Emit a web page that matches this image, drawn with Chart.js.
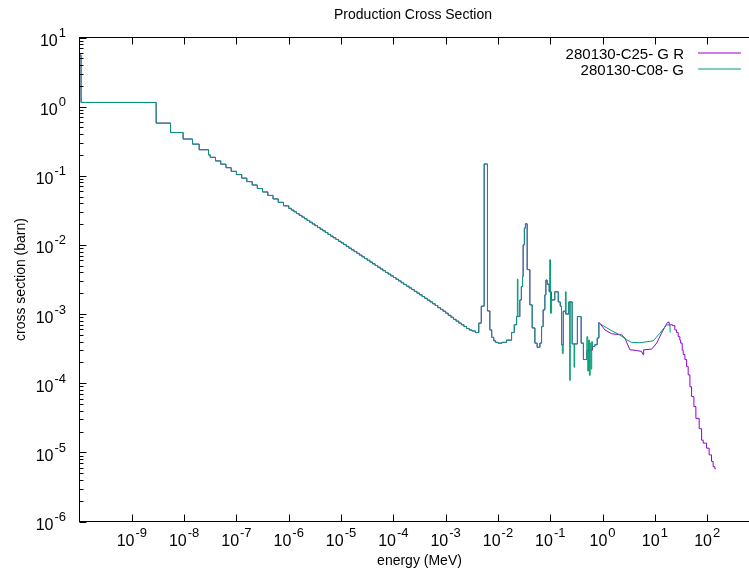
<!DOCTYPE html>
<html><head><meta charset="utf-8">
<script src="https://cdn.jsdelivr.net/npm/chart.js@4/dist/chart.umd.min.js"></script>
<style>html,body{margin:0;padding:0;overflow:hidden;background:#fff}canvas{display:block}</style>
</head><body>
<canvas id="c" width="826" height="574" style="width:826px;height:574px"></canvas>
<script>
// ---- text / series metadata ----
const chartTitle = 'Production Cross Section';
const xAxisTitle = 'energy (MeV)';
const yAxisTitle = 'cross section (barn)';
const seriesNames = ['280130-C25- G R', '280130-C08- G'];
const seriesColors = ['#9400d3', '#009e73'];
const xTickExponents = [-9, -8, -7, -6, -5, -4, -3, -2, -1, 0, 1, 2];
const yTickExponents = [-6, -5, -4, -3, -2, -1, 0, 1];

// ---- group-wise data shared by both evaluations: [E lower edge (MeV), sigma (barn)] ----
const sharedGroupData = [
  [1e-11, 5.6], [1.07e-10, 1.15], [2.92e-9, 0.578], [5.50e-9, 0.423], [9.57e-9, 0.340],
  [1.45e-8, 0.287], [1.94e-8, 0.238], [2.93e-8, 0.200], [3.16e-8, 0.185], [3.98e-8, 0.164],
  [5.01e-8, 0.147], [6.31e-8, 0.131], [7.94e-8, 0.116], [1.00e-7, 0.104], [1.26e-7, 0.0925],
  [1.58e-7, 0.0824], [2.00e-7, 0.0735], [2.51e-7, 0.0655], [3.16e-7, 0.0583], [3.98e-7, 0.0520],
  [5.01e-7, 0.0463], [6.31e-7, 0.0413], [7.94e-7, 0.0368],
  [1.00e-6, 0.0338], [1.12e-6, 0.0319], [1.26e-6, 0.0301], [1.41e-6, 0.0284], [1.58e-6, 0.0268],
  [1.78e-6, 0.0253], [2.00e-6, 0.0239], [2.24e-6, 0.0226], [2.51e-6, 0.0213], [2.82e-6, 0.0201],
  [3.16e-6, 0.0190], [3.55e-6, 0.0179], [3.98e-6, 0.0169], [4.47e-6, 0.0160], [5.01e-6, 0.0151],
  [5.62e-6, 0.0142], [6.31e-6, 0.0134], [7.08e-6, 0.0127], [7.94e-6, 0.0120], [8.91e-6, 0.0113],
  [1.00e-5, 0.0107], [1.12e-5, 0.0101], [1.26e-5, 0.00952], [1.41e-5, 0.00898], [1.58e-5, 0.00848],
  [1.78e-5, 0.00800], [2.00e-5, 0.00755], [2.24e-5, 0.00713], [2.51e-5, 0.00673], [2.82e-5, 0.00635],
  [3.16e-5, 0.00600], [3.55e-5, 0.00566], [3.98e-5, 0.00534], [4.47e-5, 0.00504], [5.01e-5, 0.00476],
  [5.62e-5, 0.00449], [6.31e-5, 0.00424], [7.08e-5, 0.00400], [7.94e-5, 0.00378], [8.91e-5, 0.00357],
  [1.00e-4, 0.00338], [1.12e-4, 0.00319], [1.26e-4, 0.00301], [1.41e-4, 0.00284], [1.58e-4, 0.00268],
  [1.78e-4, 0.00253], [2.00e-4, 0.00239], [2.24e-4, 0.00226], [2.51e-4, 0.00213], [2.82e-4, 0.00201],
  [3.16e-4, 0.00190], [3.55e-4, 0.00179], [3.98e-4, 0.00169], [4.47e-4, 0.00159], [5.01e-4, 0.00150],
  [5.62e-4, 0.00141], [6.31e-4, 0.00133], [7.08e-4, 0.00124], [7.94e-4, 0.00117], [8.91e-4, 0.00110],
  [1.00e-3, 0.00103], [1.12e-3, 0.00096], [1.26e-3, 0.00090], [1.41e-3, 0.00084], [1.58e-3, 0.00079],
  [1.78e-3, 0.00074], [2.00e-3, 0.00070], [2.24e-3, 0.00066], [2.51e-3, 0.00062], [2.82e-3, 0.00059],
  [3.16e-3, 0.00057], [3.70e-3, 0.00054], [4.30e-3, 0.00074], [4.80e-3, 0.00130], [5.45e-3, 0.148],
  [6.30e-3, 0.00111], [7.00e-3, 0.00059], [7.60e-3, 0.00046], [8.30e-3, 0.00041], [9.00e-3, 0.00039],
  [1.00e-2, 0.00038], [1.20e-2, 0.00039]
];

// ---- resolved-resonance region, group-wise ----
const c25ResonanceData = [
  [0.0146, 4.2e-4], [0.0182, 5.4e-4], [0.0205, 7.0e-4], [0.0227, 9.2e-4], [0.0262, 1.6e-3],
  [0.0280, 2.5e-3], [0.0295, 3.5e-3], [0.0303, 0.0100], [0.0320, 0.0175], [0.0335, 0.0202],
  [0.0362, 4.4e-3], [0.0407, 1.36e-3], [0.0451, 6.3e-4], [0.0508, 3.8e-4], [0.0562, 3.3e-4],
  [0.0633, 3.8e-4], [0.0682, 6.6e-4], [0.0731, 1.15e-3], [0.0788, 1.9e-3], [0.0824, 3.1e-3],
  [0.0873, 2.7e-3], [0.0953, 2.1e-3], [0.105, 1.6e-3], [0.122, 2.1e-3], [0.142, 1.5e-3],
  [0.155, 1.3e-3], [0.164, 3.6e-4], [0.177, 1.1e-3], [0.195, 1.0e-3], [0.226, 1.5e-3],
  [0.262, 3.7e-4], [0.330, 9.2e-4], [0.390, 3.8e-4], [0.430, 2.2e-4], [0.500, 3.0e-4],
  [0.640, 3.4e-4], [0.710, 3.6e-4], [0.790, 4.5e-4], [0.850, 7.6e-4]
];
const c08ResonanceData = [
  [0.0146, 4.2e-4], [0.0182, 5.4e-4], [0.0205, 7.0e-4], [0.0227, 9.2e-4], [0.0235, 3.2e-3],
  [0.0241, 9.2e-4], [0.0262, 1.6e-3], [0.0280, 2.5e-3], [0.0295, 3.5e-3], [0.0303, 0.0100],
  [0.0320, 0.0175], [0.0335, 0.0202], [0.0362, 4.4e-3], [0.0407, 1.36e-3], [0.0451, 6.3e-4],
  [0.0508, 3.8e-4], [0.0562, 3.3e-4], [0.0633, 3.8e-4], [0.0682, 6.6e-4], [0.0731, 1.15e-3],
  [0.0788, 1.9e-3], [0.0824, 3.1e-3], [0.0873, 2.7e-3], [0.0953, 2.1e-3], [0.0975, 6.1e-3],
  [0.101, 1.03e-3], [0.106, 1.6e-3], [0.122, 2.1e-3], [0.142, 1.5e-3], [0.155, 1.3e-3],
  [0.164, 3.6e-4], [0.170, 2.7e-4], [0.177, 1.1e-3], [0.195, 2.1e-3], [0.201, 1.0e-3],
  [0.226, 1.5e-3], [0.235, 1.1e-4], [0.241, 1.5e-3], [0.262, 3.7e-4], [0.285, 1.7e-4],
  [0.292, 3.7e-4], [0.330, 9.2e-4], [0.390, 3.8e-4], [0.430, 2.2e-4], [0.500, 4.7e-4],
  [0.520, 1.5e-4], [0.540, 4.2e-4], [0.560, 1.3e-4], [0.580, 3.8e-4], [0.600, 1.6e-4],
  [0.620, 4.0e-4], [0.640, 3.4e-4], [0.710, 3.6e-4], [0.790, 4.5e-4], [0.850, 7.4e-4]
];

// ---- fast region, pointwise ----
const c25FastData = [
  [0.85, 7.6e-4], [1.11, 5.9e-4], [1.49, 5.2e-4], [2.31, 5.0e-4], [2.67, 4.5e-4],
  [3.32, 3.05e-4], [4.47, 2.97e-4], [5.57, 2.88e-4], [5.98, 2.58e-4], [6.10, 3.04e-4],
  [8.66, 3.11e-4], [10.8, 3.8e-4], [13.4, 5.3e-4], [16.7, 7.2e-4], [17.5, 7.6e-4]
];
const c08FastData = [
  [0.85, 7.4e-4], [1.40, 5.9e-4], [2.14, 5.0e-4], [2.88, 4.25e-4], [3.59, 3.9e-4],
  [5.17, 3.85e-4], [9.3, 4.1e-4], [12.5, 5.3e-4], [16.7, 7.0e-4], [19.4, 6.9e-4], [19.6, 5.4e-4]
];
// ---- high-energy tail of C25, group-wise ----
const c25TailData = [
  [17.5, 7.6e-4], [18.8, 7.0e-4], [21.8, 6.8e-4], [24.1, 5.9e-4], [26.0, 5.4e-4],
  [27.9, 4.7e-4], [30.0, 4.2e-4], [31.0, 3.8e-4], [33.3, 3.0e-4], [34.8, 2.6e-4],
  [37.5, 2.2e-4], [40.4, 1.75e-4], [43.3, 1.32e-4], [46.7, 8.9e-5], [50.3, 6.4e-5],
  [55.7, 4.6e-5], [60.8, 3.1e-5], [70.3, 2.2e-5], [78.2, 1.5e-5], [83.9, 1.36e-5],
  [97.5, 1.15e-5], [109, 9.2e-6], [121, 7.4e-6], [130, 6.2e-6], [140, 5.8e-6], [146, 5.8e-6]
];

const toPts = arr => arr.map(([e, s]) => ({ x: e, y: s }));
const FONT = '"Liberation Sans", Arial, Helvetica, sans-serif';

function lineDs(label, color, data, stepped) {
  // stepped 'before': each value holds from its energy up to the next energy
  return { label, data: toPts(data), borderColor: color, backgroundColor: color,
    borderWidth: 1, pointRadius: 0, fill: false, tension: 0, stepped: stepped ? 'before' : false };
}

// index 0 is drawn on top -> green (C08) first
const datasets = [
  lineDs(seriesNames[1], seriesColors[1], sharedGroupData.concat(c08ResonanceData), true),
  lineDs(seriesNames[1], seriesColors[1], c08FastData, false),
  lineDs(seriesNames[0], seriesColors[0], sharedGroupData.concat(c25ResonanceData), true),
  lineDs(seriesNames[0], seriesColors[0], c25FastData, false),
  lineDs(seriesNames[0], seriesColors[0], c25TailData, true)
];

function drawPow(ctx, exp, x, baseY, align) {
  ctx.font = '16px ' + FONT;
  const wb = ctx.measureText('10').width;
  ctx.font = '13px ' + FONT;
  const sup = String(exp);
  const ws = ctx.measureText(sup).width;
  const total = wb + 1 + ws;
  const left = align === 'center' ? x - total / 2 : x - total;
  ctx.textAlign = 'left';
  ctx.textBaseline = 'alphabetic';
  ctx.font = '16px ' + FONT;
  ctx.fillText('10', left, baseY);
  ctx.font = '13px ' + FONT;
  ctx.fillText(sup, left + wb + 1, baseY - 9);
}

const gnuplotFrame = {
  id: 'gnuplotFrame',
  afterDraw(chart) {
    const { ctx, chartArea: a, scales: { x, y } } = chart;
    ctx.save();
    ctx.strokeStyle = '#000';
    ctx.fillStyle = '#000';
    ctx.lineWidth = 1;
    ctx.strokeRect(a.left, a.top, a.right - a.left, a.bottom - a.top);
    ctx.beginPath();
    xTickExponents.forEach(e => {
      const px = Math.round(x.getPixelForValue(Math.pow(10, e))) + 0.5;
      ctx.moveTo(px, a.bottom); ctx.lineTo(px, a.bottom - 7);
      ctx.moveTo(px, a.top); ctx.lineTo(px, a.top + 7);
    });
    yTickExponents.forEach(e => {
      const py = Math.round(y.getPixelForValue(Math.pow(10, e))) + 0.5;
      ctx.moveTo(a.left, py); ctx.lineTo(a.left + 7, py);
      if (e < yTickExponents[yTickExponents.length - 1]) {
        for (let m = 2; m <= 9; m++) {
          const pm = Math.round(y.getPixelForValue(m * Math.pow(10, e))) + 0.5;
          ctx.moveTo(a.left, pm); ctx.lineTo(a.left + 4, pm);
        }
      }
    });
    ctx.stroke();
    xTickExponents.forEach(e => drawPow(ctx, e, x.getPixelForValue(Math.pow(10, e)), a.bottom + 24, 'center'));
    yTickExponents.forEach(e => drawPow(ctx, e, 66, y.getPixelForValue(Math.pow(10, e)) + 8.5, 'right'));
    ctx.font = '14px ' + FONT;
    ctx.textAlign = 'center';
    ctx.textBaseline = 'alphabetic';
    ctx.fillText(chartTitle, 413, 19);
    ctx.fillText(xAxisTitle, (a.left + a.right) / 2, 565);
    ctx.save();
    ctx.translate(25, (a.top + a.bottom) / 2);
    ctx.rotate(-Math.PI / 2);
    ctx.fillText(yAxisTitle, 0, 0);
    ctx.restore();
    ctx.restore();
    // key
    const rows = [53, 69];
    seriesNames.forEach((name, i) => {
      ctx.save();
      ctx.font = '15px ' + FONT;
      ctx.textAlign = 'right';
      ctx.textBaseline = 'alphabetic';
      ctx.fillStyle = '#000';
      ctx.fillText(name, 684, rows[i] + 6);
      ctx.lineWidth = 1.2;
      ctx.strokeStyle = seriesColors[i];
      ctx.beginPath();
      ctx.moveTo(698, rows[i]);
      ctx.lineTo(741, rows[i]);
      ctx.stroke();
      ctx.restore();
    });
  }
};

new Chart(document.getElementById('c'), {
  type: 'line',
  data: { datasets },
  options: {
    responsive: false,
    animation: false,
    events: [],
    layout: { padding: { left: 79.5, right: 66.5, top: 37.5, bottom: 52.5 } },
    scales: {
      x: { type: 'logarithmic', min: 1e-10, max: 1e3, display: false },
      y: { type: 'logarithmic', min: 1e-6, max: 10, display: false }
    },
    plugins: { legend: { display: false }, tooltip: { enabled: false }, title: { display: false } }
  },
  plugins: [gnuplotFrame]
});
</script>
</body></html>
